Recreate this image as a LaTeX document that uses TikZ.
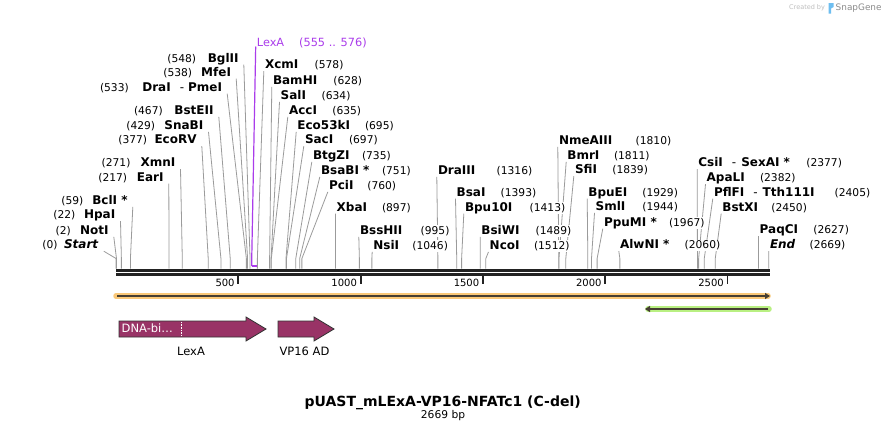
\documentclass[tikz,border=0pt]{standalone}
\usepackage{fontspec}
\setmainfont{DejaVu Sans}
\usetikzlibrary{positioning,calc,arrows.meta}

\definecolor{featmaroon}{RGB}{153,51,102}
\definecolor{lexapurple}{RGB}{170,60,235}
\definecolor{linegray}{RGB}{155,155,155}
\definecolor{barblack}{RGB}{34,34,34}
\definecolor{orangehalo}{RGB}{250,200,120}
\definecolor{greenhalo}{RGB}{185,240,130}
\definecolor{arrowdark}{RGB}{70,62,50}
\definecolor{snapblue}{RGB}{110,190,240}

\pgfdeclarelayer{background}
\pgfsetlayers{background,main}

\tikzset{
  enz/.style={inner xsep=0.5pt, inner ysep=1pt, fill=white,
    font=\fontsize{12}{14}\selectfont\bfseries},
  bpnum/.style={inner xsep=0.5pt, inner ysep=1pt, fill=white, anchor=base west,
    font=\fontsize{10.7}{12}\selectfont},
  cutline/.style={linegray, line width=0.8pt},
  ticklbl/.style={inner sep=0pt, anchor=base east, font=\fontsize{10}{12}\selectfont},
  feat/.style={fill=featmaroon, draw=black!80, line width=0.8pt, line join=miter},
  featlbl/.style={inner sep=0pt, font=\fontsize{11.5}{13}\selectfont},
  lexalbl/.style={inner sep=0pt, anchor=base west, text=lexapurple,
    font=\fontsize{11.3}{13}\selectfont}
}

\begin{document}
\begin{tikzpicture}[x=1pt,y=-1pt]
    \useasboundingbox (0,0) rectangle (886,432);
    \begin{pgfonlayer}{background}
      \fill[white] (0,0) rectangle (886,432);
    \end{pgfonlayer}

    % the sequence, two strands
    \draw[barblack, line width=3pt] (116,270.7) -- (769.5,270.7);
    \draw[barblack, line width=2.2pt] (116,274.5) -- (769.5,274.5);

    % ruler ticks
    \foreach \t in {500,1000,...,2500} {
      \coordinate (tk\t) at ({116+0.2446*\t}, 275.5);
      \draw[barblack, line width=1.8pt] (tk\t) -- ++(0,8);
      \node[ticklbl] (tl\t) at ({116+0.2446*\t-3.5}, 286) {\t};
    }

    % sites labelled on the left of their line
    \foreach \nm/\bp/\rx/\ly/\px [count=\i] in {
        {\textit{Start}}/0/99.3/244.3/41.7,
        NotI/2/109.3/230/55,
        HpaI/22/116/214.3/52.7,
        {BclI *}/59/128.3/200/60.7,
        EarI/217/164.3/176.7/97.7,
        XmnI/271/176/162.3/101,
        EcoRV/377/197.3/139.3/117.7,
        SnaBI/429/204/125/125.7,
        BstEII/467/214.3/110/133.3,
        {DraI\hspace{9pt}{\mdseries -}\hspace{4pt}PmeI}/533/222.7/86.7/99.3,
        MfeI/538/231.7/71.7/162.7,
        BglII/548/239.3/57.7/166.7} {
      \coordinate (ls\i) at ({116+0.2446*\bp}, 268.5);
      \node[enz, anchor=base east] (ln\i) at ({\rx}, {\ly+4.4}) {\nm};
      \node[bpnum] (lp\i) at ({\px}, {\ly+4.4}) {(\bp)};
      \begin{pgfonlayer}{background}
        \draw[cutline] ($(ln\i.base east)+(4.5,2.5)$) -- ([yshift=10pt]ls\i) -- (ls\i);
      \end{pgfonlayer}
    }

    % sites labelled on the right of their line
    \foreach \nm/\bp/\lx/\ly/\px [count=\i] in {
        XcmI/578/264.3/64.3/314,
        BamHI/628/272.3/80/332.7,
        SalI/634/280/95/321,
        AccI/635/288.3/110/331.7,
        Eco53kI/695/296.7/125/364.3,
        SacI/697/304.3/139.3/348.3,
        BtgZI/735/312.3/155/361.3,
        {BsaBI *}/751/320.3/170/381.3,
        PciI/760/328.3/185/366.7,
        XbaI/897/336/206.7/381.3,
        BssHII/995/359.3/230/420,
        NsiI/1046/372.7/245/411.7,
        DraIII/1316/437.3/170/496,
        BsaI/1393/456/191.7/500,
        Bpu10I/1413/464.3/206.7/529,
        BsiWI/1489/480.7/230/535,
        NcoI/1512/489/245/533.3,
        NmeAIII/1810/558.3/140/635,
        BmrI/1811/566.7/155/613.3,
        SfiI/1839/574.3/169.3/611.7,
        BpuEI/1929/587.7/191.7/641.7,
        SmlI/1944/595/206/641.7,
        {PpuMI *}/1967/603.3/221.7/668.3,
        {AlwNI *}/2060/619.3/244.3/684,
        {CsiI\hspace{9pt}{\mdseries -}\hspace{5pt}SexAI *}/2377/697.7/162.3/805.7,
        ApaLI/2382/706/177.3/759.3,
        {PflFI\hspace{9pt}{\mdseries -}\hspace{5pt}Tth111I}/2405/713.3/191.7/834,
        BstXI/2450/721.7/206.7/770.7,
        PaqCI/2627/759/229.3/812.7,
        {\textit{End}}/2669/769.3/244.3/809} {
      \coordinate (rs\i) at ({116+0.2446*\bp}, 268.5);
      \node[enz, anchor=base west] (rn\i) at ({\lx}, {\ly+4.4}) {\nm};
      \node[bpnum] (rp\i) at ({\px}, {\ly+4.4}) {(\bp)};
      \begin{pgfonlayer}{background}
        \draw[cutline] ($(rn\i.base west)+(-0.5,2.5)$) -- ([yshift=10pt]rs\i) -- (rs\i);
      \end{pgfonlayer}
    }

    % LexA operator mark
    \node[lexalbl] (lexaop) at (256.7, 46.5) {LexA};
    \node[lexalbl] (lexaoppos) at (299, 46.5) {(555 .. 576)};
    \coordinate (opfrom) at ({116+0.2446*555}, 266);
    \coordinate (opto) at ({116+0.2446*576}, 266);
    \draw[lexapurple, line width=1.2pt] ($(lexaop.base west)+(-1,0)$) -- ([yshift=8pt]opfrom) -- (opfrom);
    \draw[lexapurple, line width=2pt] (opfrom) -- (opto);

    % primer and gene arrows
    \draw[orangehalo, line width=5.5pt, line cap=round] (116,296) -- (768,296);
    \draw[arrowdark, line width=1.6pt, -{Triangle[length=5pt,width=6pt]}] (117,296) -- (770,296);
    \draw[greenhalo, line width=5.5pt, line cap=round] (648,309) -- (769,309);
    \draw[arrowdark, line width=1.6pt, -{Triangle[length=5pt,width=6pt]}] (768,309) -- (645,309);

    % features
    \draw[feat] (119,321) -- (246,321) -- (246,317) -- (266,329) -- (246,341) -- (246,337) -- (119,337) -- cycle;
    \draw[white, densely dotted, line width=0.6pt] (181,322) -- (181,336);
    \node[featlbl, anchor=west, text=white] (lexadom) at (121.5,328.5) {DNA-bi\ldots};
    \draw[feat] (278,321) -- (314,321) -- (314,317) -- (334,329) -- (314,341) -- (314,337) -- (278,337) -- cycle;
    \node[featlbl] (lexalbl) at (191,351) {LexA};
    \node[featlbl] (vplbl) at (304.5,351) {VP16 AD};

    % title
    \node[inner sep=0pt, anchor=base, font=\fontsize{14}{16}\selectfont\bfseries] (title) at (442.7,406.8) {pUAST\_mLExA-VP16-NFATc1 (C-del)};
    \node[inner sep=0pt, anchor=base, font=\fontsize{10.7}{12}\selectfont] (size) at (443,418.9) {2669 bp};

    % watermark
    \node[inner sep=0pt, anchor=west, text=black!25, font=\fontsize{6.5}{8}\selectfont] (created) at (789,8) {Created by};
    \fill[snapblue] (828.5,13.5) -- (828.5,3) -- (833.5,3) -- (833.5,7) -- (831,8.5) -- (831,13.5) -- cycle;
    \node[inner sep=0pt, anchor=west, text=black!45, font=\fontsize{8.9}{10}\selectfont] (snapgene) at (835.5,8) {SnapGene};

  \end{tikzpicture}
\end{document}
